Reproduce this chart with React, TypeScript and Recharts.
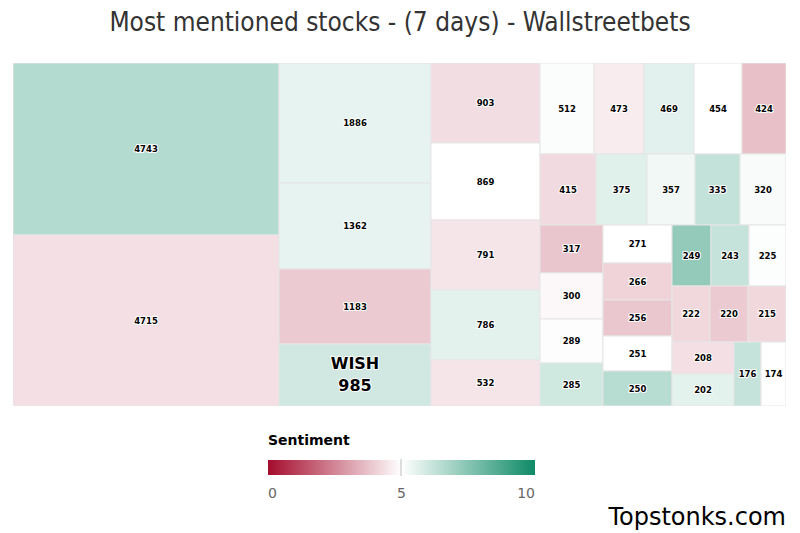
import React from "react";
import { Treemap } from "recharts";

// mentions over 7 days, largest first
const values = [
  4743, 4715, 1886, 1362, 1183, 985, 903, 869, 791, 786, 532, 512, 473, 469, 454, 424, 415, 375, 357, 335,
  320, 317, 300, 289, 285, 271, 266, 256, 251, 250, 249, 243, 225, 222, 220, 215, 208, 202, 176, 174,
];

// sentiment 0..10
const sentiment = [
  6.55, 4.35, 5.5, 5.5, 3.9, 5.97, 4.3, 5.0, 4.45, 5.55, 4.45, 5.1, 4.6, 5.6, 5.02, 3.7, 4.25, 5.65, 5.3, 6.25,
  5.15, 3.8, 4.85, 4.95, 6.0, 5.02, 4.1, 3.85, 5.0, 6.5, 7.25, 6.2, 5.07, 4.2, 3.9, 4.2, 4.35, 5.55, 6.2, 5.0,
];

// only the highlighted ticker carries a name
const names = values.map((_, i) => (i === 5 ? "WISH" : ""));

const legendTicks = [0, 5, 10];

const RED = [165, 12, 45];
const WHITE = [255, 255, 255];
const GREEN = [14, 138, 102];

function colorFor(s: number) {
  const mix = (a: number[], b: number[], t: number) =>
    `rgb(${a.map((v, i) => Math.round(v + (b[i] - v) * t)).join(",")})`;
  if (s <= 5) return mix(RED, WHITE, s / 5);
  return mix(WHITE, GREEN, (s - 5) / 5);
}

const data = values.map((v, i) => ({ name: names[i], size: v, sentiment: sentiment[i] }));

const FONT = "'DejaVu Sans', Verdana, sans-serif";
const TITLE_FONT = "'DejaVu Sans Condensed', 'DejaVu Sans', sans-serif";

function Cell(props: any) {
  const { x, y, width, height, depth, name, value, sentiment } = props;
  if (depth === 0) return null;
  const cx = x + width / 2;
  const cy = y + height / 2;
  return (
    <g>
      <rect x={x} y={y} width={width} height={height} fill={colorFor(sentiment)} stroke="#e6e6e6" strokeWidth={1} />
      {name ? (
        <text
          x={cx}
          y={cy - 6}
          fontFamily={FONT}
          fontSize={16}
          fontWeight="bold"
          fill="#000"
          stroke="#fff"
          strokeWidth={2}
          paintOrder="stroke"
          textAnchor="middle"
        >
          <tspan x={cx} dy={0}>{name}</tspan>
          <tspan x={cx} dy={22}>{value}</tspan>
        </text>
      ) : (
        <text
          x={cx}
          y={cy + 3}
          fontFamily={FONT}
          fontSize={8.5}
          fontWeight="bold"
          fill="#000"
          stroke="#fff"
          strokeWidth={2}
          paintOrder="stroke"
          textAnchor="middle"
        >
          {value}
        </text>
      )}
    </g>
  );
}

export default function App() {
  return (
    <div style={{ position: "absolute", left: 0, top: 0, width: 800, height: 533, background: "#fff", fontFamily: FONT }}>
      <div
        style={{
          position: "absolute",
          top: 7,
          width: 800,
          textAlign: "center",
          fontFamily: TITLE_FONT,
          fontSize: 26,
          color: "#333",
        }}
      >
        Most mentioned stocks - (7 days) - Wallstreetbets
      </div>

      <div style={{ position: "absolute", left: 13, top: 63 }}>
        <Treemap
          width={773}
          height={343}
          data={data}
          dataKey="size"
          nameKey="name"
          isAnimationActive={false}
          content={<Cell />}
        />
      </div>

      {/* colour axis legend */}
      <div style={{ position: "absolute", left: 268, top: 432, fontSize: 14, fontWeight: "bold", color: "#000" }}>
        Sentiment
      </div>
      <div
        style={{
          position: "absolute",
          left: 268,
          top: 460,
          width: 267,
          height: 15,
          background: `linear-gradient(to right, ${colorFor(0)}, ${colorFor(5)}, ${colorFor(10)})`,
        }}
      />
      <div style={{ position: "absolute", left: 400, top: 459, width: 2, height: 17, background: "#ddd" }} />
      {legendTicks.map((t) => (
        <div
          key={t}
          style={{
            position: "absolute",
            left: 268 + (t / 10) * 267 - 20,
            width: 40,
            top: 485,
            textAlign: t === 0 ? "left" : t === 10 ? "right" : "center",
            transform: t === 0 ? "translateX(20px)" : t === 10 ? "translateX(-20px)" : undefined,
            fontSize: 14,
            color: "#666",
          }}
        >
          {t}
        </div>
      ))}

      <div style={{ position: "absolute", right: 14, top: 503, fontSize: 24, color: "#000" }}>Topstonks.com</div>
    </div>
  );
}
